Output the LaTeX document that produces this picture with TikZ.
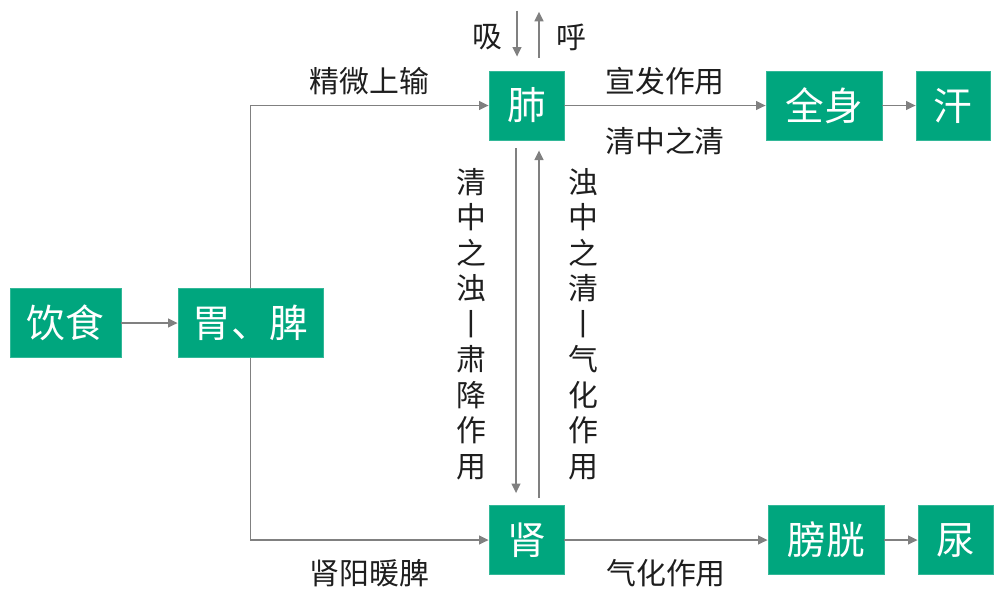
\documentclass[tikz,border=0pt]{standalone}
\usepackage{fontspec}
\setmainfont{Noto Sans CJK SC}
\usetikzlibrary{arrows.meta}
\definecolor{organ}{RGB}{0,166,126}
\definecolor{lineg}{RGB}{128,128,128}
\definecolor{txt}{RGB}{30,30,30}
\begin{document}
\begin{tikzpicture}[x=0.02cm, y=-0.02cm,
  organ/.style={fill=organ,draw=organ!80!white,text=white,minimum height=1.38cm,inner sep=0pt,font=\fontsize{22}{26}\selectfont},
  arr/.style={-{Triangle[length=5.5pt,width=5pt]},draw=lineg,line width=1.1pt},
  lbl/.style={text=txt,font=\fontsize{17}{20}\selectfont},
  vlbl/.style={text=txt,align=center,inner sep=0pt,font=\fontsize{17}{20.2}\selectfont}]
\useasboundingbox (0,0) rectangle (1000,606);
% organs
\node[organ,minimum width=2.22cm] (yinshi) at (65.5,323) {饮食};
\node[organ,minimum width=2.9cm] (pw) at (250.5,323) {胃、脾};
\node[organ,minimum width=1.5cm] (fei) at (526.5,105.5) {肺};
\node[organ,minimum width=2.32cm] (quanshen) at (824,105.5) {全身};
\node[organ,minimum width=1.48cm] (han) at (953,105.5) {汗};
\node[organ,minimum width=1.5cm] (shen) at (526.5,540) {肾};
\node[organ,minimum width=2.32cm] (pangguang) at (826,540) {膀胱};
\node[organ,minimum width=1.5cm] (niao) at (955.5,540) {尿};
% main flow
\draw[arr] (yinshi) -- (pw);
\draw[arr] (pw.north) |- (fei) node[lbl,pos=0.75,above=2pt] {精微上输};
\draw[arr] (pw.south) |- (shen) node[lbl,pos=0.75,below=7pt] {肾阳暖脾};
\draw[arr] (fei) -- (quanshen) node[lbl,midway,above=2pt] {宣发作用}
  node[lbl,midway,below=8.5pt] {清中之清};
\draw[arr] (quanshen) -- (han);
\draw[arr] (shen) -- (pangguang) node[lbl,midway,below=7pt] {气化作用};
\draw[arr] (pangguang) -- (niao);
% lung <-> kidney
\draw[arr] ([xshift=-0.21cm,yshift=-0.16cm]fei.south) -- ([xshift=-0.21cm,yshift=0.24cm]shen.north);
\draw[arr] ([xshift=0.25cm,yshift=0.14cm]shen.north) -- ([xshift=0.25cm,yshift=-0.2cm]fei.south);
\node[vlbl] (sujiang) at (471,324) {清\\中\\之\\浊\\丨\\肃\\降\\作\\用};
\node[vlbl] (qihua) at (583,324) {浊\\中\\之\\清\\丨\\气\\化\\作\\用};
% breathing
\coordinate (xitop) at ([xshift=-0.19cm,yshift=1.2cm]fei.north);
\coordinate (xibot) at ([xshift=-0.19cm,yshift=0.28cm]fei.north);
\coordinate (hubot) at ([xshift=0.25cm,yshift=0.26cm]fei.north);
\coordinate (hutop) at ([xshift=0.25cm,yshift=1.18cm]fei.north);
\draw[arr] (xitop) -- (xibot);
\draw[arr] (hubot) -- (hutop);
\node[lbl] (xi) at (487,37) {吸};
\node[lbl] (hu) at (571,37) {呼};
\end{tikzpicture}
\end{document}
